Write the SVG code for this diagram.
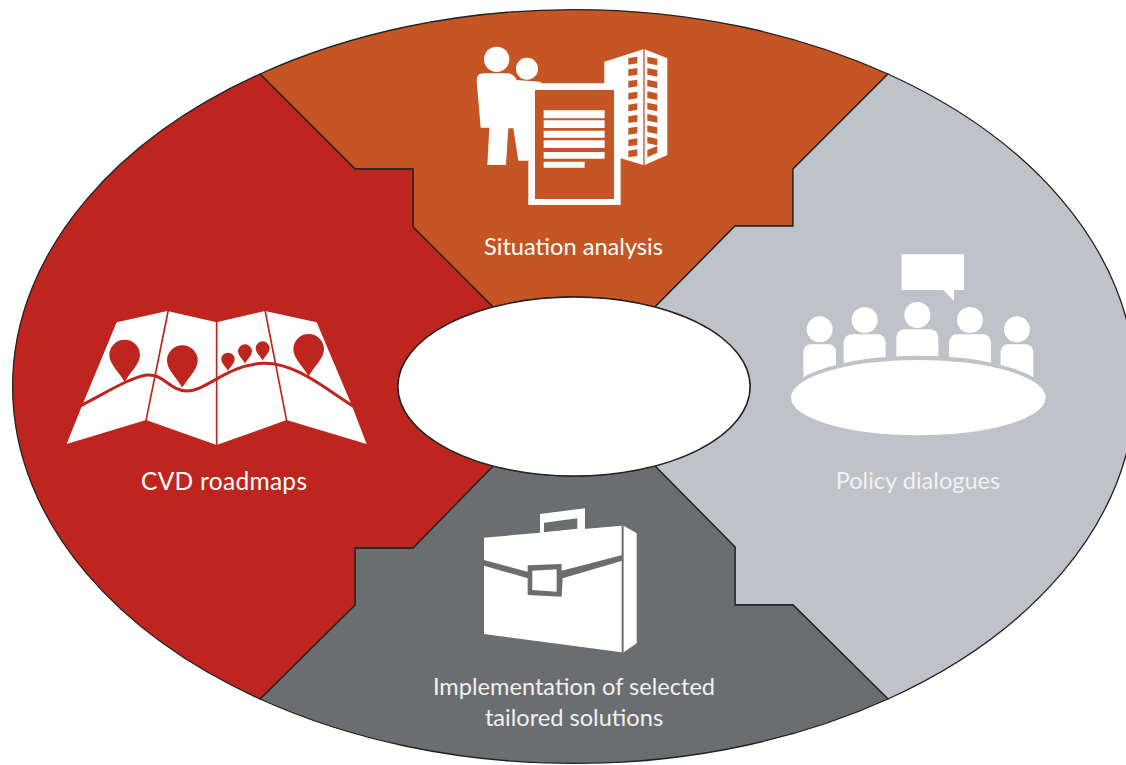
<svg xmlns="http://www.w3.org/2000/svg" width="1126" height="765" viewBox="0 0 1126 765">
<style>
.sec{stroke:#222;stroke-width:1.3;stroke-linejoin:miter}
.w{fill:#fff}
.lbl{font-family:"Lato","Open Sans","Liberation Sans",sans-serif;font-size:23.6px;fill:#fff;text-anchor:middle}
</style>
<defs>
<path id="pin" d="M0,1.75C-.3,1.2-1,.6-1,0A1,1 0 0 1 1,0C1,.6 .3,1.2 0,1.75Z"/>
<path id="win" d="M0,4L27,0V20L0,24Z"/>
<path id="win2" d="M0,0L30,6V26L0,20Z"/>
<g id="person"><circle cx="0" cy="-45" r="39"/><rect x="-49" y="0" width="98" height="160" rx="22"/></g>
<g id="person2"><circle cx="0" cy="-43" r="39"/><rect x="-63" y="0" width="126" height="160" rx="24"/></g>
</defs>
<rect width="1126" height="765" fill="#fff"/>
<g id="sector-situation">
<path class="sec" fill="#C55525" d="M260,74A561.5,377 0 0 1 888,74L793,169V226H735L655,307A176,89.5 0 0 0 493,307L413,227V169H355Z"/>
<g class="w" transform="translate(450,30) scale(.3333)" fill-rule="evenodd">
<circle cx="140" cy="88" r="38"/><circle cx="231" cy="116" r="33"/>
<path d="M92,293L80,152Q80,130 100,130H175Q190,132 200,150L270,155L275,160H463V95L580,58V405L512,385V525H235V392H205L190,295H175L168,405H112L118,293Z"/>
<path d="M584,58L652,85V375L584,405Z"/>
<path fill="#C55525" d="M255,180H492V507H255Z"/>
<path d="M281,241H464V265H281ZM281,271H464V294H281ZM281,302H464V323H281ZM281,331H464V354H281ZM281,366H464V386H281ZM281,395H404V413H281Z"/>
<g fill="#C55525">
<use href="#win" x="535" y="80"/><use href="#win" x="535" y="114"/><use href="#win" x="535" y="149"/><use href="#win" x="535" y="185"/><use href="#win" x="535" y="220"/><use href="#win" x="535" y="255"/><use href="#win" x="535" y="290"/><use href="#win" x="535" y="325"/><use href="#win" x="535" y="358"/>
<use href="#win2" x="592" y="80"/><use href="#win2" x="592" y="114"/><use href="#win2" x="592" y="149"/><use href="#win2" x="592" y="184"/><use href="#win2" x="592" y="218"/><use href="#win2" x="592" y="252"/><use href="#win2" x="592" y="286"/><use href="#win2" x="592" y="320"/><path d="M592,360L622,348V368L592,382Z"/>
</g>
</g>
<text class="lbl" x="573.500" y="255">Situation analysis</text>
</g>
<g id="sector-policy">
<path class="sec" fill="#BFC2C8" d="M888,74A561.5,377 0 0 1 888,699L793,605H735V547L655,466A176,89.500 0 0 0 655,307L735,226H793V169Z"/>
<g transform="translate(780,240) scale(.3333)">
<path class="w" d="M365,43H552V150H522V183L490,150H365Z"/>
<g class="w">
<use href="#person" x="119" y="313"/><use href="#person" x="711" y="313"/>
<use href="#person2" x="254" y="283"/><use href="#person2" x="570" y="283"/><use href="#person2" x="412" y="268"/>
</g>
<ellipse cx="415" cy="473" rx="395" ry="126" fill="#BFC2C8"/>
<ellipse class="w" cx="415" cy="473" rx="382" ry="113"/>
</g>
<text class="lbl" x="918" y="489" opacity=".8">Policy dialogues</text>
</g>
<g id="sector-implementation">
<path class="sec" fill="#6B6E70" d="M888,699A561.5,377 0 0 1 260,699L355,605V548H413L493,466A176,89.500 0 0 0 655,466L735,547V605H793Z"/>
<g transform="translate(460,500) scale(.3333)">
<path class="w" fill-rule="evenodd" d="M240,42L375,25V90L240,105ZM252,68V97L352,86V55Z"/>
<path class="w" d="M72,113L485,77V457L72,402Z"/>
<path class="w" d="M491,77L530,100V430L491,457Z"/>
<path fill="#6B6E70" d="M72,180L203,215V196L305,192V212L487,165V182L308,235L305,290L203,285V235L72,197Z"/>
<path class="w" d="M217,212L290,208V275L217,270Z"/>
</g>
<text class="lbl" x="574" y="695" opacity=".9">Implementation of selected</text>
<text class="lbl" x="574" y="726" opacity=".9">tailored solutions</text>
</g>
<g id="sector-roadmaps">
<path class="sec" fill="#BE251E" d="M260,699A561.5,377 0 0 1 260,74L355,169H413V227L493,307A176,89.500 0 0 0 493,466L413,548H355V605Z"/>
<g transform="translate(50,290) scale(.3333)">
<path class="w" d="M200,97L352,63L500,97L645,63L800,97L905,345L950,462L710,390L500,465L288,390L50,462L97,345Z"/>
<g fill="none" stroke="#BE251E">
<path stroke-width="9" d="M85,350C150,320 230,265 290,255C340,250 360,303 410,303C470,303 530,225 640,220C740,218 830,300 915,352"/>
<path stroke-width="5" d="M355,60L288,392M500,95V467M645,60L710,392"/>
</g>
<g fill="#BE251E">
<use href="#pin" transform="translate(224,195) scale(46)"/>
<use href="#pin" transform="translate(397,212) scale(46)"/>
<use href="#pin" transform="translate(534,208) scale(20)"/>
<use href="#pin" transform="translate(585,184) scale(21)"/>
<use href="#pin" transform="translate(638,175) scale(21)"/>
<use href="#pin" transform="translate(776,178) scale(46)"/>
</g>
</g>
<text class="lbl" x="224" y="490" style="font-size:24.5px" textLength="166">CVD roadmaps</text>
</g>
<g id="center"><ellipse cx="574" cy="386.500" rx="176" ry="89.500" fill="#fff" stroke="#222" stroke-width="1.300"/></g>
</svg>
